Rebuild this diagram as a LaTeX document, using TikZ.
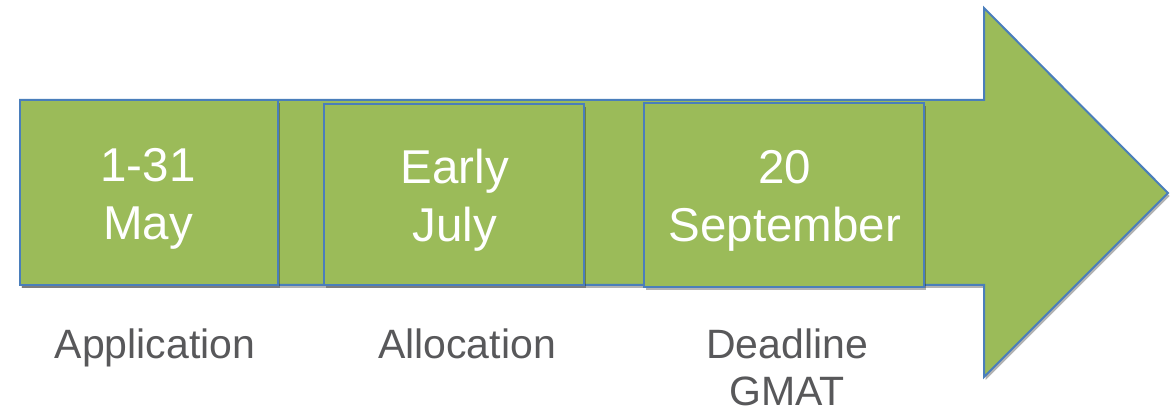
\documentclass[tikz,border=0pt]{standalone}
\usepackage{fontspec}
\setmainfont{Liberation Sans}
\usetikzlibrary{shadows}
\definecolor{boxgreen}{HTML}{9BBB59}
\definecolor{edgeblue}{HTML}{4A7EBB}
\definecolor{labelgray}{HTML}{58585A}
\tikzset{
  shapefill/.style={fill=boxgreen, draw=edgeblue, line width=2pt, line join=miter},
  shade/.style={drop shadow={shadow xshift=1.5pt, shadow yshift=-3pt, opacity=0.3, fill=black}},
  datetext/.style={text=white, align=center, inner sep=0pt, font=\fontsize{47.5}{58}\selectfont},
  labeltext/.style={text=labelgray, align=center, inner sep=0pt, font=\fontsize{41}{47}\selectfont}
}
\begin{document}
\begin{tikzpicture}[x=1pt,y=-1pt]
\useasboundingbox (0,0) rectangle (1176,411);
% big arrow
\path[shapefill, shade] (20,100) -- (984,100) -- (984,8) -- (1168,193) -- (984,377) -- (984,285) -- (20,285) -- cycle;
% boxes
\path[shapefill, shade] (20,100) rectangle (278,285);
\path[shapefill, shade] (324,104) rectangle (584,285);
\path[shapefill, shade] (644,103) rectangle (924,287);
% box texts
\node[datetext] (d1) at (148,199) {1-31\\May};
\node[datetext] (d2) at (455,200.5) {Early\\July};
\node[datetext] (d3) at (785,201) {20\\September};
% labels
\node[labeltext, anchor=base] (l1) at (155,359) {Application};
\node[labeltext, anchor=base] (l2) at (467,359) {Allocation};
\node[labeltext] (l3) at (787,367) {Deadline\\GMAT};
\end{tikzpicture}
\end{document}
